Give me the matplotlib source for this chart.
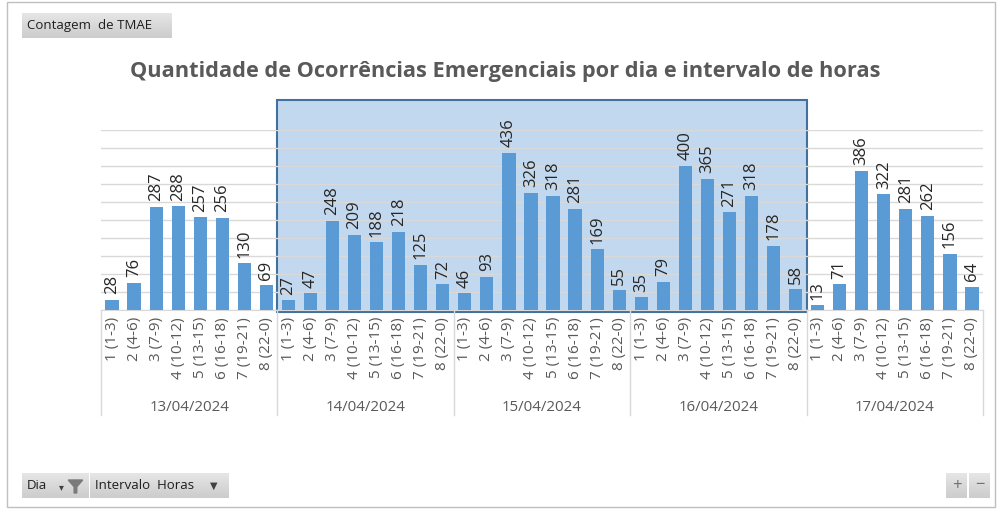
import numpy as np
import matplotlib
matplotlib.use("Agg")
import matplotlib.pyplot as plt
from matplotlib.patches import Rectangle
from matplotlib.transforms import blended_transform_factory

plt.rcParams['font.family'] = ['Open Sans', 'DejaVu Sans']

dias = ["13/04/2024", "14/04/2024", "15/04/2024", "16/04/2024", "17/04/2024"]
intervalos = ["1 (1-3)", "2 (4-6)", "3 (7-9)", "4 (10-12)", "5 (13-15)",
              "6 (16-18)", "7 (19-21)", "8 (22-0)"]
d13 = [28, 76, 287, 288, 257, 256, 130, 69]
d14 = [27, 47, 248, 209, 188, 218, 125, 72]
d15 = [46, 93, 436, 326, 318, 281, 169, 55]
d16 = [35, 79, 400, 365, 271, 318, 178, 58]
d17 = [13, 71, 386, 322, 281, 262, 156, 64]
selecionados = ["14/04/2024", "15/04/2024", "16/04/2024"]

valores = d13 + d14 + d15 + d16 + d17
rotulos = intervalos * len(dias)
x = np.arange(len(valores))

W, H = 997, 509
fig = plt.figure(figsize=(W / 100, H / 100), dpi=100, facecolor="white")

# moldura do gráfico
fig.patches.append(Rectangle((7 / W, 2 / H), 988 / W, 505 / H, transform=fig.transFigure,
                             fill=False, edgecolor="#BFBFBF", linewidth=1))

ax = fig.add_axes([101 / W, (H - 310) / H, 882 / W, 180 / H])
ax.set_xlim(-0.5, len(valores) - 0.5)
ax.set_ylim(0, 500)

# seleção do pivot (dias filtrados)
i0 = dias.index(selecionados[0]) * 8 - 0.5
i1 = (dias.index(selecionados[-1]) + 1) * 8 - 0.5
ax.add_patch(Rectangle((i0, -6), i1 - i0, 589, facecolor="#C1D8EF", edgecolor="#41719C",
                       linewidth=1.5, clip_on=False, zorder=0))

ax.set_yticks(np.arange(0, 501, 50))
ax.yaxis.grid(True, color="#D9D9D9", linewidth=1)
ax.set_axisbelow(True)
ax.tick_params(axis="y", left=False, labelleft=False)
for s in ["top", "right", "left"]:
    ax.spines[s].set_visible(False)
ax.spines["bottom"].set_color("#D9D9D9")
ax.patch.set_alpha(0)

ax.bar(x, valores, width=0.6, color="#5B9BD5", zorder=3)
for xi, v in zip(x, valores):
    ax.annotate(str(v), (xi, v), xytext=(0, 4), textcoords="offset points",
                rotation=90, ha="center", va="bottom",
                fontsize=12, color="#262626", zorder=4)

ax.set_xticks(x)
ax.set_xticklabels(rotulos, rotation=90, fontsize=11, color="#595959")
ax.tick_params(axis="x", length=0, pad=5)

tr = blended_transform_factory(ax.transData, ax.transAxes)
for g in range(len(dias) + 1):
    ax.plot([g * 8 - 0.5] * 2, [0, -0.585], transform=tr, color="#D9D9D9",
            linewidth=1, clip_on=False)
for g, d in enumerate(dias):
    ax.text(g * 8 + 3.5, -0.54, d, transform=tr, ha="center", va="center",
            fontsize=10.8, color="#595959")

fig.text(505 / W, 1 - 71 / H, "Quantidade de Ocorrências Emergenciais por dia e intervalo de horas",
         ha="center", va="center", fontsize=15.7, fontweight="bold", color="#595959")


def botao(x0, y0, w, h, texto):
    bax = fig.add_axes([x0 / W, 1 - (y0 + h) / H, w / W, h / H])
    grad = np.linspace(0.90, 0.80, 50).reshape(-1, 1)
    bax.imshow(grad, cmap="gray", vmin=0, vmax=1, aspect="auto", extent=[0, 1, 0, 1])
    bax.set_xlim(0, 1)
    bax.set_ylim(0, 1)
    bax.axis("off")
    if texto:
        bax.text(5 / w, 0.5, texto, ha="left", va="center", fontsize=9.5, color="#1F1F1F")
    return bax


botao(22, 13, 149, 25, "Contagem  de TMAE")
b1 = botao(22, 473, 66, 25, "Dia")
b1.text(0.6, 0.4, "▾", ha="center", va="center", fontsize=7, color="#404040")
b1.fill([0.7, 0.92, 0.83, 0.83, 0.79, 0.79], [0.72, 0.72, 0.45, 0.2, 0.2, 0.45],
        color="#7A7A7A")
b2 = botao(90, 473, 138, 25, "Intervalo  Horas")
b2.text(0.9, 0.45, "▼", ha="center", va="center", fontsize=7, color="#404040")
b3 = botao(946, 473, 21, 25, "")
b3.text(0.5, 0.5, "+", ha="center", va="center", fontsize=12, color="#707070")
b4 = botao(969, 473, 21, 25, "")
b4.text(0.5, 0.5, "−", ha="center", va="center", fontsize=12, color="#707070")

fig.savefig("out.png", dpi=100)
